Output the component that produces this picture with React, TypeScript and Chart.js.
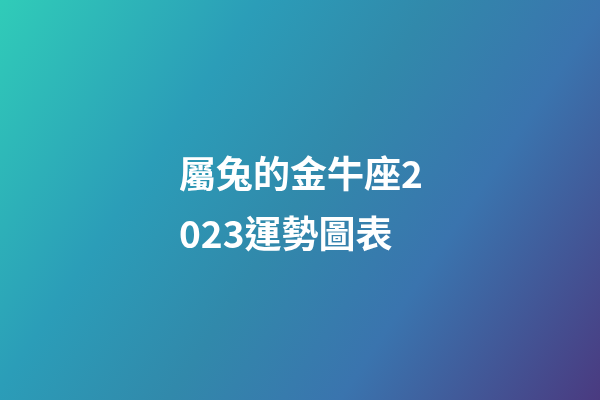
import React, { useEffect, useRef } from "react";
import { Chart, registerables } from "chart.js";

Chart.register(...registerables);

const titleLines: string[] = ["屬兔的金牛座2", "023運勢圖表"];
const gradientStops: [number, string][] = [
  [0, "#30ccb8"],
  [0.3, "#2b9db8"],
  [0.5, "#3189ab"],
  [0.7, "#3a74ae"],
  [1, "#4a3a80"],
];
const categories: string[] = [];
const values: number[] = [];

const bgPlugin = {
  id: "gradientBg",
  beforeDraw(chart: any) {
    const { ctx, width, height } = chart;
    const g = ctx.createLinearGradient(0, 0, width, height);
    gradientStops.forEach(([o, c]) => g.addColorStop(o, c));
    ctx.save();
    ctx.fillStyle = g;
    ctx.fillRect(0, 0, width, height);
    ctx.restore();
  },
  afterDraw(chart: any) {
    const { ctx } = chart;
    ctx.save();
    ctx.fillStyle = "#ffffff";
    ctx.font = 'bold 37px "Noto Sans CJK TC", "Noto Sans CJK SC", sans-serif';
    ctx.textAlign = "left";
    ctx.textBaseline = "alphabetic";
    titleLines.forEach((line, i) => {
      ctx.fillText(line, 179, 188 + i * 60);
    });
    ctx.restore();
  },
};

export default function App() {
  const ref = useRef<HTMLCanvasElement | null>(null);
  useEffect(() => {
    document.body.style.margin = "0";
    if (!ref.current) return;
    const chart = new Chart(ref.current, {
      type: "bar",
      data: { labels: categories, datasets: [{ data: values }] },
      options: {
        responsive: false,
        animation: false,
        plugins: { legend: { display: false }, tooltip: { enabled: false }, title: { display: false } },
        scales: { x: { display: false }, y: { display: false } },
      },
      plugins: [bgPlugin],
    });
    return () => chart.destroy();
  }, []);
  return (
    <div style={{ position: "fixed", left: 0, top: 0, width: 600, height: 400 }}>
      <canvas ref={ref} width={600} height={400} style={{ display: "block" }} />
    </div>
  );
}
